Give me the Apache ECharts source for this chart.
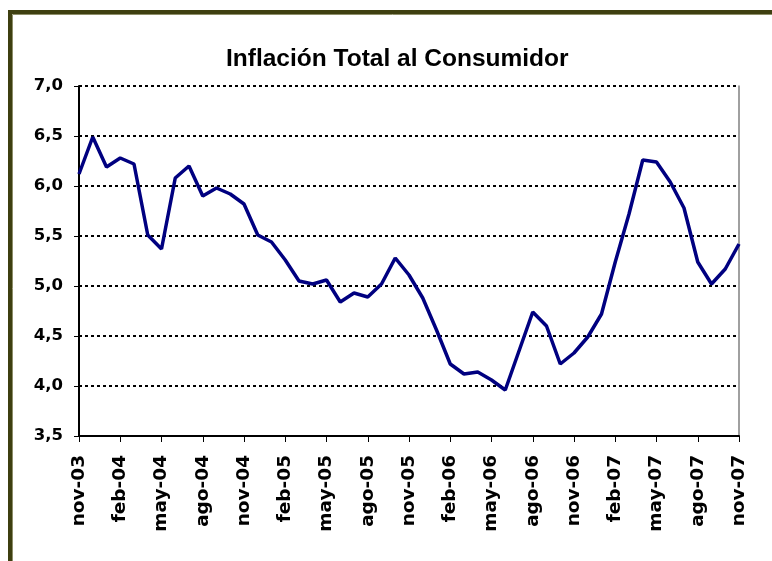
<!DOCTYPE html>
<html>
<head>
<meta charset="utf-8">
<script src="https://cdn.jsdelivr.net/npm/echarts@6/dist/echarts.min.js"></script>
<style>
html,body{margin:0;padding:0;background:#fff;}
#chart{width:772px;height:561px;}
</style>
</head>
<body>
<div id="chart"></div>
<script>
const titleText = 'Inflación Total al Consumidor';
const months = ['ene','feb','mar','abr','may','jun','jul','ago','sep','oct','nov','dic'];
// monthly categories nov-03 .. nov-07
const categories = [];
for (let y = 3; y <= 7; y++) {
  for (let m = 0; m < 12; m++) {
    if (y === 3 && m < 10) continue;
    if (y === 7 && m > 10) continue;
    categories.push(months[m] + '-0' + y);
  }
}
const inflation = [
  6.12, 6.49, 6.19, 6.28, 6.22, 5.51, 5.37, 6.08, 6.20, 5.90,
  5.98, 5.92, 5.82, 5.51, 5.44, 5.26, 5.05, 5.02, 5.06, 4.84,
  4.93, 4.89, 5.02, 5.28, 5.11, 4.88, 4.56, 4.22, 4.12, 4.14,
  4.06, 3.96, 4.35, 4.74, 4.60, 4.22, 4.33, 4.49, 4.72, 5.24,
  5.72, 6.26, 6.24, 6.04, 5.78, 5.24, 5.02, 5.17, 5.42
];
const yMin = 3.5, yMax = 7.0, yStep = 0.5;

const chart = echarts.init(document.getElementById('chart'), null, {renderer: 'canvas'});
chart.setOption({
  backgroundColor: '#ffffff',
  animation: false,
  title: {
    text: titleText,
    left: 221,
    top: 42,
    textStyle: {fontFamily: 'Liberation Sans, Arial, sans-serif', fontWeight: 'bold', fontSize: 24.5, color: '#000'}
  },
  graphic: [
    {type: 'rect', shape: {x: 10, y: 12, width: 900, height: 900}, style: {fill: 'none', stroke: '#3e3f10', lineWidth: 4}, silent: true},
    {type: 'rect', shape: {x: 12.5, y: 14.5, width: 900, height: 900}, style: {fill: 'none', stroke: '#8e8f6a', lineWidth: 1}, silent: true}
  ],
  grid: {left: 79, right: 33, top: 86, bottom: 125, containLabel: false},
  xAxis: {
    type: 'category',
    data: categories,
    boundaryGap: false,
    axisLine: {lineStyle: {color: '#000', width: 2}},
    axisTick: {show: true, interval: 2, length: 6, lineStyle: {color: '#000', width: 1}},
    axisLabel: {
      interval: 2, rotate: 90, margin: 19,
      fontFamily: 'DejaVu Sans, sans-serif', fontWeight: 'bold', fontSize: 18.5, color: '#000'
    },
    splitLine: {show: false}
  },
  yAxis: [{
    type: 'value',
    min: yMin, max: yMax, interval: yStep,
    axisLine: {show: true, lineStyle: {color: '#000', width: 2}},
    axisTick: {show: true, length: 5, lineStyle: {color: '#000'}},
    axisLabel: {
      margin: 16,
      fontFamily: 'DejaVu Sans, sans-serif', fontWeight: 'bold', fontSize: 16.5, color: '#000',
      formatter: v => v.toFixed(1).replace('.', ',')
    },
    splitLine: {show: true, lineStyle: {color: '#000', width: 2, type: [3, 3]}}
  }, {
    type: 'value', position: 'right',
    min: yMin, max: yMax, interval: yStep,
    axisLine: {show: true, lineStyle: {color: '#808080', width: 1.5}},
    axisTick: {show: false}, axisLabel: {show: false}, splitLine: {show: false}
  }],
  series: [{
    type: 'line',
    data: inflation,
    yAxisIndex: 0,
    symbol: 'none',
    lineStyle: {color: '#000080', width: 3.5},
    z: 5
  }]
});
</script>
</body>
</html>
